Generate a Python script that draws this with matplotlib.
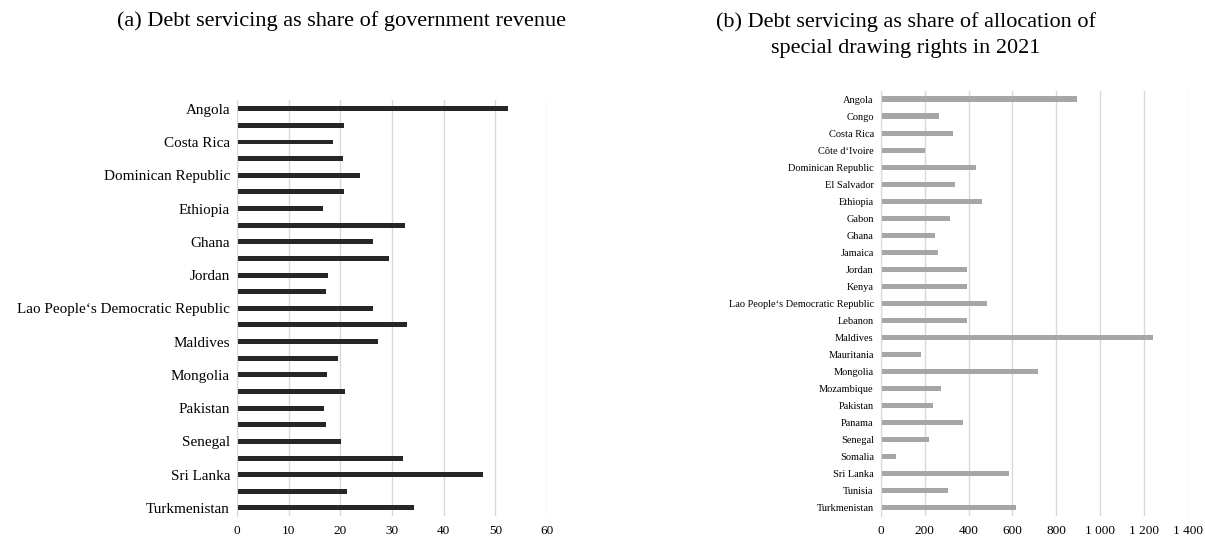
import matplotlib
matplotlib.use("Agg")
import matplotlib.pyplot as plt
from matplotlib.ticker import FuncFormatter

plt.rcParams["font.family"] = ["Liberation Serif", "DejaVu Serif"]

paises = ["Angola", "Congo", "Costa Rica", "Côte d‘Ivoire", "Dominican Republic",
          "El Salvador", "Ethiopia", "Gabon", "Ghana", "Jamaica", "Jordan", "Kenya",
          "Lao People‘s Democratic Republic", "Lebanon", "Maldives", "Mauritania",
          "Mongolia", "Mozambique", "Pakistan", "Panama", "Senegal", "Somalia",
          "Sri Lanka", "Tunisia", "Turkmenistan"]

# (a) % da receita do governo
receita = [52.4, 20.7, 18.6, 20.5, 23.8, 20.7, 16.6, 32.5, 26.4, 29.4, 17.6, 17.2,
           26.3, 32.8, 27.2, 19.6, 17.4, 20.9, 16.8, 17.2, 20.2, 32.2, 47.6, 21.3, 34.2]

# (b) % da alocação de DES em 2021
des = [894, 265, 327, 201, 432, 336, 461, 314, 247, 259, 394, 391,
       482, 391, 1239, 185, 714, 273, 239, 376, 218, 70, 582, 306, 618]

ticks_a = [0, 10, 20, 30, 40, 50, 60]
ticks_b = [0, 200, 400, 600, 800, 1000, 1200, 1400]

titulo_a = "(a) Debt servicing as share of government revenue"
titulo_b = "(b) Debt servicing as share of allocation of\nspecial drawing rights in 2021"

fig = plt.figure(figsize=(12.05, 5.41), dpi=100)
ax1 = fig.add_axes([0.1967, 0.0457, 0.2573, 0.7687])
ax2 = fig.add_axes([0.7309, 0.0458, 0.2551, 0.7869])

pos = list(range(len(paises)))


def estilo(ax, ticks, fmt):
    ax.set_xlim(ticks[0], ticks[-1])
    ax.set_ylim(len(paises) - 0.5, -0.5)
    ax.set_xticks(ticks)
    ax.xaxis.set_major_formatter(FuncFormatter(fmt))
    ax.grid(axis="x", color="#d9d9d9", linewidth=1)
    ax.set_axisbelow(True)
    for s in ["top", "right", "bottom"]:
        ax.spines[s].set_visible(False)
    ax.spines["left"].set_color("#d9d9d9")
    ax.tick_params(length=0, pad=5)
    ax.tick_params(axis="x", labelsize=9.5, pad=6)


ax1.barh(pos, receita, height=0.3, color="#262626")
estilo(ax1, ticks_a, lambda v, p: f"{v:.0f}")
ax1.set_yticks(pos[::2])
ax1.set_yticklabels(paises[::2], fontsize=10.9)

ax2.barh(pos, des, height=0.3, color="#a6a6a6")
estilo(ax2, ticks_b, lambda v, p: f"{v:,.0f}".replace(",", " "))
ax2.set_yticks(pos)
ax2.set_yticklabels(paises, fontsize=7.5)

fig.text(0.283, 0.962, titulo_a, ha="center", va="center", fontsize=16)
fig.text(0.752, 0.978, titulo_b, ha="center", va="top", fontsize=16, linespacing=1.5)

fig.savefig("out.png", dpi=100)
